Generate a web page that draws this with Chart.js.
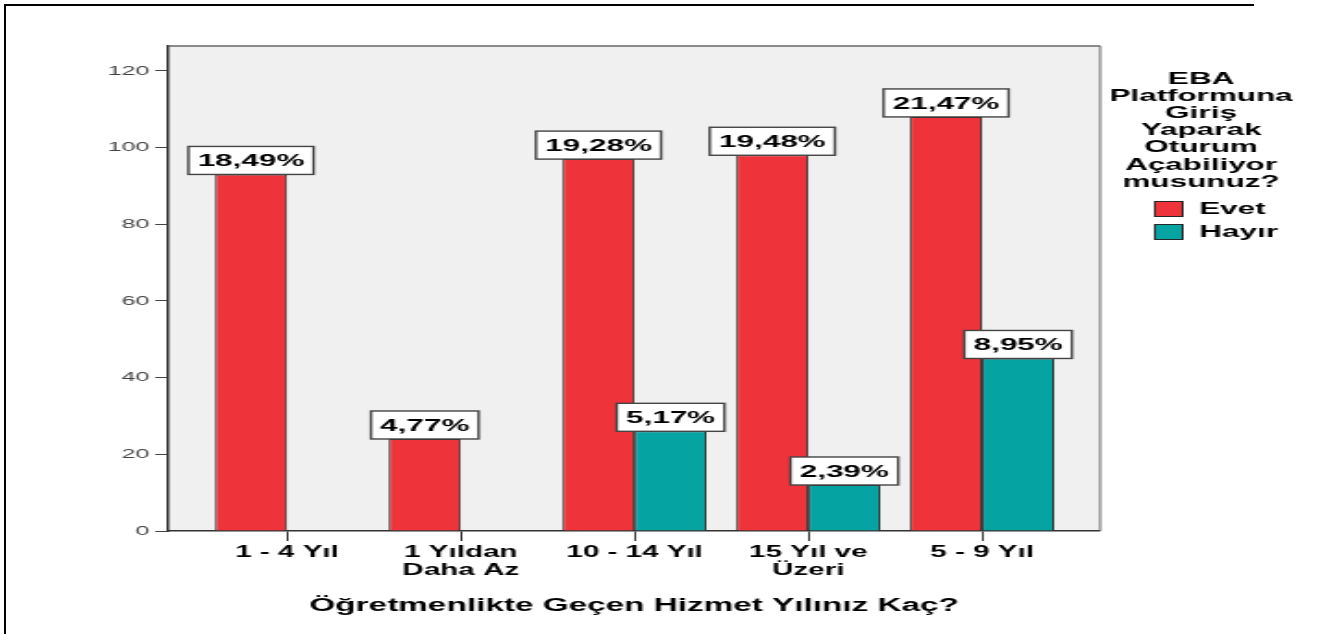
<!DOCTYPE html>
<html>
<head>
<meta charset="utf-8">
<script src="https://cdn.jsdelivr.net/npm/chart.js@4/dist/chart.umd.min.js"></script>
<style>
  html, body { margin: 0; padding: 0; background: #fff; overflow: hidden; }
  #wrap { position: relative; width: 1337px; height: 634px; }
  #c { position: absolute; left: 0; top: 0; width: 1337px; height: 634px; display: block; }
  #frame { position: absolute; left: 4px; top: 4px; width: 1248px; height: 640px;
           border-top: 2px solid #000; border-left: 2px solid #000; pointer-events: none; }
</style>
</head>
<body>
<div id="wrap">
  <canvas id="c" width="723" height="634" style="width:1337px;height:634px;"></canvas>
  <div id="frame"></div>
</div>
<script>
// ---- data ----
const categories = [['1 - 4 Yıl'], ['1 Yıldan', 'Daha Az'], ['10 - 14 Yıl'], ['15 Yıl ve', 'Üzeri'], ['5 - 9 Yıl']];
const evetValues = [93, 24, 97, 98, 108];
const hayirValues = [null, null, 26, 12, 45];
const seriesNames = ['Evet', 'Hayır'];
const seriesColors = ['#ef333a', '#06a3a3'];
const yTicks = [0, 20, 40, 60, 80, 100, 120];
const xTitle = 'Öğretmenlikte Geçen Hizmet Yılınız Kaç?';
const legendTitle = ['EBA', 'Platformuna', 'Giriş', 'Yaparak', 'Oturum', 'Açabiliyor', 'musunuz?'];

const FONT = "'Liberation Sans', Arial, sans-serif";
const total = evetValues.concat(hayirValues).reduce((a, v) => a + (v || 0), 0);
const pct = v => (v / total * 100).toFixed(2).replace('.', ',') + '%';
const allSeries = [evetValues, hayirValues];
const BORDER = '#262626';

Chart.defaults.font.family = FONT;

// legend swatch: square placed at the right end of a wider transparent cell
const SW_W = 36, SQ = 16;
function swatch(color) {
  const c = document.createElement('canvas');
  c.width = SW_W; c.height = SQ;
  const g = c.getContext('2d');
  g.fillStyle = color;
  g.fillRect(SW_W - SQ + 0.5, 0.5, SQ - 1, SQ - 1);
  g.strokeStyle = BORDER; g.lineWidth = 1;
  g.strokeRect(SW_W - SQ + 0.5, 0.5, SQ - 1, SQ - 1);
  return c;
}
const swatches = seriesColors.map(swatch);

const plotFrame = {
  id: 'plotFrame',
  beforeDraw(chart) {
    const {ctx, chartArea: a} = chart;
    ctx.save();
    ctx.fillStyle = '#f0f0f0';
    ctx.fillRect(a.left, a.top, a.right - a.left, a.bottom - a.top);
    ctx.restore();
  },
  beforeDatasetsDraw(chart) {
    const {ctx, chartArea: a} = chart;
    ctx.save();
    ctx.strokeStyle = '#666';
    ctx.lineWidth = 1.6;
    ctx.beginPath();
    ctx.moveTo(a.left, a.top);
    ctx.lineTo(a.right, a.top);
    ctx.stroke();
    ctx.lineWidth = 1;
    ctx.beginPath();
    ctx.moveTo(a.right, a.top);
    ctx.lineTo(a.right, a.bottom);
    ctx.stroke();
    ctx.restore();
  }
};

const valueBoxes = {
  id: 'valueBoxes',
  afterDatasetsDraw(chart) {
    const ctx = chart.ctx;
    ctx.save();
    ctx.font = 'bold 17px ' + FONT;
    ctx.textAlign = 'center';
    ctx.textBaseline = 'middle';
    allSeries.forEach((vals, di) => {
      const meta = chart.getDatasetMeta(di);
      meta.data.forEach((bar, j) => {
        const v = vals[j];
        if (v == null) return;
        const t = pct(v);
        const w = ctx.measureText(t).width + 10;
        const h = 28;
        const x = bar.x - w / 2, y = bar.y - h;
        ctx.fillStyle = '#ffffff';
        ctx.fillRect(x, y, w, h);
        ctx.strokeStyle = '#444';
        ctx.lineWidth = 1.4;
        ctx.strokeRect(x, y, w, h);
        ctx.fillStyle = '#000';
        ctx.fillText(t, bar.x, y + h / 2 + 1);
      });
    });
    ctx.restore();
  }
};

const toPoints = vals => vals.map((v, i) => ({x: i, y: v}));

new Chart(document.getElementById('c'), {
  type: 'bar',
  data: {
    datasets: seriesNames.map((name, i) => ({
      label: name, data: toPoints(allSeries[i]), backgroundColor: seriesColors[i],
      borderColor: BORDER, borderWidth: 1, categoryPercentage: 0.829, barPercentage: 1.0
    }))
  },
  options: {
    responsive: false,
    devicePixelRatio: 1,
    animation: false,
    events: [],
    layout: { padding: { top: 46, left: 0, right: 22, bottom: 0 } },
    scales: {
      x: {
        type: 'linear', position: 'bottom', min: -0.685, max: 4.68, offset: false,
        afterBuildTicks: s => { s.ticks = categories.map((_, i) => ({value: i})); },
        afterFit: s => { s.height = 103; },
        grid: { display: true, drawOnChartArea: false, drawTicks: true, tickLength: 10, color: '#333', offset: false },
        border: { display: true, color: '#333', width: 1.5 },
        ticks: { color: '#000', padding: 3, maxRotation: 0, autoSkip: false,
                 font: { size: 16, weight: 'bold', lineHeight: 1.1 },
                 callback: v => categories[v] },
        title: { display: true, text: xTitle, color: '#000', font: { size: 18, weight: 'bold', lineHeight: 1.2 },
                 padding: { top: 0, bottom: 17 } }
      },
      y: {
        type: 'linear', position: 'left', min: 0, max: 126.5,
        afterBuildTicks: s => { s.ticks = yTicks.map(v => ({value: v})); },
        afterFit: s => { s.width = 90.85; },
        grid: { display: true, drawOnChartArea: false, drawTicks: true, tickLength: 7, color: '#444' },
        border: { display: true, color: '#333', width: 1.5 },
        ticks: { color: '#444', padding: 3, font: { size: 13.5 } }
      },
      gap: {
        type: 'linear', position: 'right', display: true,
        grid: { display: false }, border: { display: false }, ticks: { display: false },
        afterFit: s => { s.width = 3; }
      }
    },
    plugins: {
      tooltip: { enabled: false },
      legend: {
        position: 'right', align: 'start',
        title: { display: true, text: legendTitle, position: 'center', color: '#000',
                 font: { size: 17, weight: 'bold', lineHeight: 1.01 },
                 padding: { top: 24.5, bottom: 106.8 } },
        labels: { usePointStyle: true, pointStyleWidth: SW_W, boxHeight: SQ, padding: 6, color: '#000',
                  font: { size: 17, weight: 'bold' },
                  generateLabels: chart => Chart.defaults.plugins.legend.labels.generateLabels(chart)
                    .map((it, i) => Object.assign(it, { pointStyle: swatches[i] })) }
      }
    }
  },
  plugins: [plotFrame, valueBoxes]
});
</script>
</body>
</html>
